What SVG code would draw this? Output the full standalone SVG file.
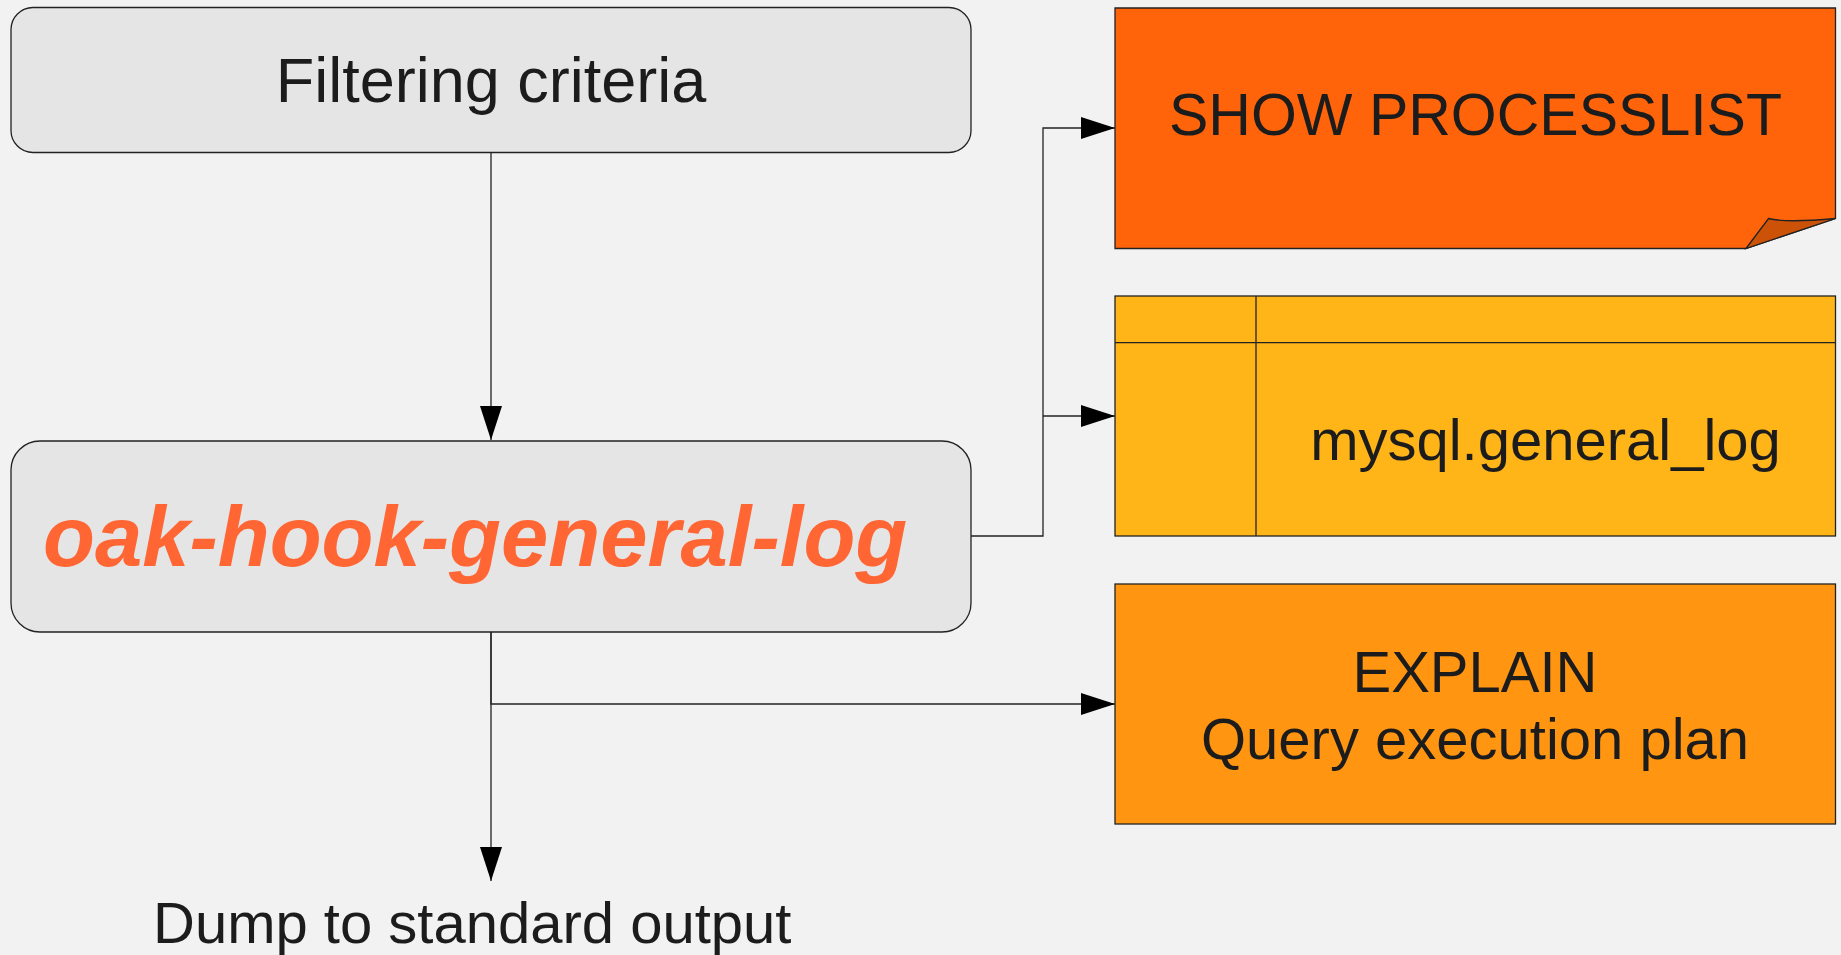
<svg xmlns="http://www.w3.org/2000/svg" width="1841" height="955" viewBox="0 0 1841 955">
<style>
.lbl{font-family:"Liberation Sans",Arial,sans-serif;fill:#1c1c1c;}
.box{fill:#e5e5e5;stroke:#222;stroke-width:1.3;}
.conn{fill:none;stroke:#222;stroke-width:1.3;}
</style>
<defs>
<marker id="arr" viewBox="0 0 34 22" markerWidth="34" markerHeight="22" refX="34" refY="11" orient="auto" markerUnits="userSpaceOnUse">
<path d="M0,0 L34,11 L0,22 Z" fill="#000"/>
</marker>
</defs>
<rect width="1841" height="955" fill="#f2f2f2"/>
<g id="connectors">
<path class="conn" d="M491,152 V440" marker-end="url(#arr)"/>
<path class="conn" d="M971,536 H1043 V128 H1115" marker-end="url(#arr)"/>
<path class="conn" d="M1043,416 H1115" marker-end="url(#arr)"/>
<path class="conn" d="M491,632 V704 H1115" marker-end="url(#arr)"/>
<path class="conn" d="M491,632 V881" marker-end="url(#arr)"/>
</g>
<g id="filter">
<rect class="box" x="11" y="7.5" width="960" height="145" rx="22" ry="22"/>
<text class="lbl" x="491" y="102" font-size="63" text-anchor="middle">Filtering criteria</text>
</g>
<g id="oak">
<rect class="box" x="11" y="441" width="960" height="191" rx="29" ry="29"/>
<text x="43" y="566" font-family="'Liberation Sans',Arial,sans-serif" font-weight="bold" font-style="italic" font-size="85" fill="#ff6633">oak-hook-general-log</text>
</g>
<g id="processlist">
<path d="M1115,8 H1835.5 V218.5 L1746,248.5 H1115 Z" fill="#ff640a" stroke="#222" stroke-width="1.3"/>
<path d="M1746,248.5 L1768.5,218.5 Q1786,223 1835.5,218.5 Z" fill="#cc5208" stroke="#222" stroke-width="1.3"/>
<text class="lbl" x="1475.5" y="135" font-size="59" text-anchor="middle">SHOW PROCESSLIST</text>
</g>
<g id="generallog">
<rect x="1115" y="296" width="720.5" height="240" fill="#ffb518" stroke="#222" stroke-width="1.3"/>
<line x1="1115" y1="342.7" x2="1835.5" y2="342.7" stroke="#222" stroke-width="1.3"/>
<line x1="1256" y1="296" x2="1256" y2="536" stroke="#222" stroke-width="1.3"/>
<text class="lbl" x="1545.5" y="460" font-size="58" text-anchor="middle">mysql.general_log</text>
</g>
<g id="explain">
<rect x="1115" y="584" width="720.5" height="240" fill="#ff9510" stroke="#222" stroke-width="1.3"/>
<text class="lbl" x="1475" y="692" font-size="58" text-anchor="middle">EXPLAIN</text>
<text class="lbl" x="1475" y="758.5" font-size="58" text-anchor="middle">Query execution plan</text>
</g>
<g id="dump">
<text class="lbl" x="153" y="943" font-size="58">Dump to standard output</text>
</g>
</svg>
